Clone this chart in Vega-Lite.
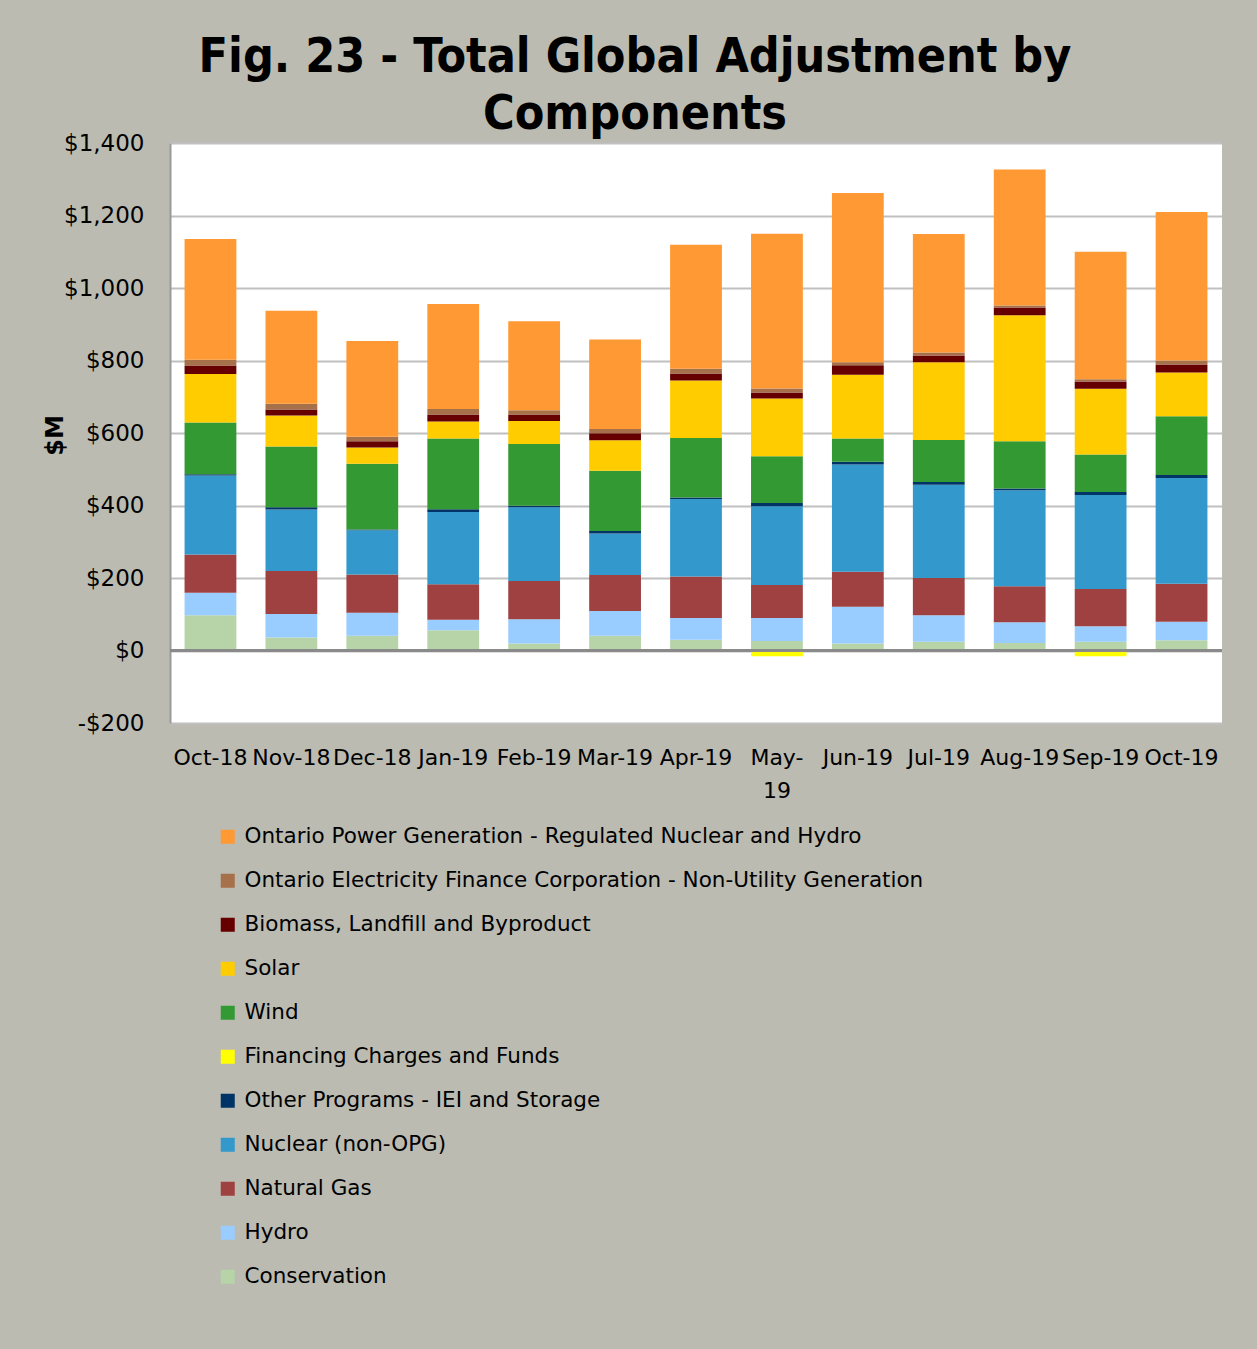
{
  "$schema": "https://vega.github.io/schema/vega-lite/v6.json",
  "autosize": "none",
  "width": 1052,
  "height": 580,
  "padding": {"left": 170, "top": 143, "right": 35, "bottom": 626},
  "background": "#BBBBB2",
  "view": {"fill": "white", "stroke": null},
  "title": {
    "text": ["Fig. 23 - Total Global Adjustment by", "Components"],
    "font": "DejaVu Sans Condensed",
    "fontSize": 48,
    "fontWeight": "bold",
    "lineHeight": 57,
    "anchor": "middle",
    "frame": "group",
    "dx": -61,
    "offset": -7,
    "color": "black"
  },
  "datasets": {
    "componentOrder": [
      {"component": "Conservation", "rank": 1},
      {"component": "Hydro", "rank": 2},
      {"component": "Natural Gas", "rank": 3},
      {"component": "Nuclear (non-OPG)", "rank": 4},
      {"component": "Other Programs - IEI and Storage", "rank": 5},
      {"component": "Financing Charges and Funds", "rank": 6},
      {"component": "Wind", "rank": 7},
      {"component": "Solar", "rank": 8},
      {"component": "Biomass, Landfill and Byproduct", "rank": 9},
      {"component": "Ontario Electricity Finance Corporation - Non-Utility Generation", "rank": 10},
      {"component": "Ontario Power Generation - Regulated Nuclear and Hydro", "rank": 11}
    ],
    "gaRows": [
      {"month": "Oct-18", "component": "Conservation", "value": 97},
      {"month": "Oct-18", "component": "Hydro", "value": 62},
      {"month": "Oct-18", "component": "Natural Gas", "value": 106},
      {"month": "Oct-18", "component": "Nuclear (non-OPG)", "value": 218},
      {"month": "Oct-18", "component": "Other Programs - IEI and Storage", "value": 3},
      {"month": "Oct-18", "component": "Wind", "value": 143},
      {"month": "Oct-18", "component": "Solar", "value": 134},
      {"month": "Oct-18", "component": "Biomass, Landfill and Byproduct", "value": 23},
      {"month": "Oct-18", "component": "Ontario Electricity Finance Corporation - Non-Utility Generation", "value": 16},
      {"month": "Oct-18", "component": "Ontario Power Generation - Regulated Nuclear and Hydro", "value": 333},

      {"month": "Nov-18", "component": "Conservation", "value": 36},
      {"month": "Nov-18", "component": "Hydro", "value": 65},
      {"month": "Nov-18", "component": "Natural Gas", "value": 118},
      {"month": "Nov-18", "component": "Nuclear (non-OPG)", "value": 170},
      {"month": "Nov-18", "component": "Other Programs - IEI and Storage", "value": 6},
      {"month": "Nov-18", "component": "Wind", "value": 168},
      {"month": "Nov-18", "component": "Solar", "value": 85},
      {"month": "Nov-18", "component": "Biomass, Landfill and Byproduct", "value": 17},
      {"month": "Nov-18", "component": "Ontario Electricity Finance Corporation - Non-Utility Generation", "value": 16},
      {"month": "Nov-18", "component": "Ontario Power Generation - Regulated Nuclear and Hydro", "value": 256},

      {"month": "Dec-18", "component": "Conservation", "value": 41},
      {"month": "Dec-18", "component": "Hydro", "value": 63},
      {"month": "Dec-18", "component": "Natural Gas", "value": 106},
      {"month": "Dec-18", "component": "Nuclear (non-OPG)", "value": 122},
      {"month": "Dec-18", "component": "Other Programs - IEI and Storage", "value": 2},
      {"month": "Dec-18", "component": "Wind", "value": 181},
      {"month": "Dec-18", "component": "Solar", "value": 45},
      {"month": "Dec-18", "component": "Biomass, Landfill and Byproduct", "value": 17},
      {"month": "Dec-18", "component": "Ontario Electricity Finance Corporation - Non-Utility Generation", "value": 13},
      {"month": "Dec-18", "component": "Ontario Power Generation - Regulated Nuclear and Hydro", "value": 264},

      {"month": "Jan-19", "component": "Conservation", "value": 56},
      {"month": "Jan-19", "component": "Hydro", "value": 29},
      {"month": "Jan-19", "component": "Natural Gas", "value": 98},
      {"month": "Jan-19", "component": "Nuclear (non-OPG)", "value": 199},
      {"month": "Jan-19", "component": "Other Programs - IEI and Storage", "value": 8},
      {"month": "Jan-19", "component": "Wind", "value": 195},
      {"month": "Jan-19", "component": "Solar", "value": 47},
      {"month": "Jan-19", "component": "Biomass, Landfill and Byproduct", "value": 19},
      {"month": "Jan-19", "component": "Ontario Electricity Finance Corporation - Non-Utility Generation", "value": 15},
      {"month": "Jan-19", "component": "Ontario Power Generation - Regulated Nuclear and Hydro", "value": 290},

      {"month": "Feb-19", "component": "Conservation", "value": 19},
      {"month": "Feb-19", "component": "Hydro", "value": 67},
      {"month": "Feb-19", "component": "Natural Gas", "value": 106},
      {"month": "Feb-19", "component": "Nuclear (non-OPG)", "value": 203},
      {"month": "Feb-19", "component": "Other Programs - IEI and Storage", "value": 4},
      {"month": "Feb-19", "component": "Wind", "value": 171},
      {"month": "Feb-19", "component": "Solar", "value": 63},
      {"month": "Feb-19", "component": "Biomass, Landfill and Byproduct", "value": 18},
      {"month": "Feb-19", "component": "Ontario Electricity Finance Corporation - Non-Utility Generation", "value": 12},
      {"month": "Feb-19", "component": "Ontario Power Generation - Regulated Nuclear and Hydro", "value": 245},

      {"month": "Mar-19", "component": "Conservation", "value": 41},
      {"month": "Mar-19", "component": "Hydro", "value": 68},
      {"month": "Mar-19", "component": "Natural Gas", "value": 99},
      {"month": "Mar-19", "component": "Nuclear (non-OPG)", "value": 115},
      {"month": "Mar-19", "component": "Other Programs - IEI and Storage", "value": 7},
      {"month": "Mar-19", "component": "Wind", "value": 166},
      {"month": "Mar-19", "component": "Solar", "value": 84},
      {"month": "Mar-19", "component": "Biomass, Landfill and Byproduct", "value": 19},
      {"month": "Mar-19", "component": "Ontario Electricity Finance Corporation - Non-Utility Generation", "value": 12},
      {"month": "Mar-19", "component": "Ontario Power Generation - Regulated Nuclear and Hydro", "value": 247},

      {"month": "Apr-19", "component": "Conservation", "value": 30},
      {"month": "Apr-19", "component": "Hydro", "value": 60},
      {"month": "Apr-19", "component": "Natural Gas", "value": 114},
      {"month": "Apr-19", "component": "Nuclear (non-OPG)", "value": 214},
      {"month": "Apr-19", "component": "Other Programs - IEI and Storage", "value": 4},
      {"month": "Apr-19", "component": "Wind", "value": 164},
      {"month": "Apr-19", "component": "Solar", "value": 159},
      {"month": "Apr-19", "component": "Biomass, Landfill and Byproduct", "value": 19},
      {"month": "Apr-19", "component": "Ontario Electricity Finance Corporation - Non-Utility Generation", "value": 13},
      {"month": "Apr-19", "component": "Ontario Power Generation - Regulated Nuclear and Hydro", "value": 342},

      {"month": "May-19", "component": "Financing Charges and Funds", "value": -16},
      {"month": "May-19", "component": "Conservation", "value": 26},
      {"month": "May-19", "component": "Hydro", "value": 64},
      {"month": "May-19", "component": "Natural Gas", "value": 91},
      {"month": "May-19", "component": "Nuclear (non-OPG)", "value": 217},
      {"month": "May-19", "component": "Other Programs - IEI and Storage", "value": 9},
      {"month": "May-19", "component": "Wind", "value": 129},
      {"month": "May-19", "component": "Solar", "value": 159},
      {"month": "May-19", "component": "Biomass, Landfill and Byproduct", "value": 17},
      {"month": "May-19", "component": "Ontario Electricity Finance Corporation - Non-Utility Generation", "value": 11},
      {"month": "May-19", "component": "Ontario Power Generation - Regulated Nuclear and Hydro", "value": 427},

      {"month": "Jun-19", "component": "Conservation", "value": 19},
      {"month": "Jun-19", "component": "Hydro", "value": 102},
      {"month": "Jun-19", "component": "Natural Gas", "value": 96},
      {"month": "Jun-19", "component": "Nuclear (non-OPG)", "value": 296},
      {"month": "Jun-19", "component": "Other Programs - IEI and Storage", "value": 8},
      {"month": "Jun-19", "component": "Wind", "value": 64},
      {"month": "Jun-19", "component": "Solar", "value": 176},
      {"month": "Jun-19", "component": "Biomass, Landfill and Byproduct", "value": 26},
      {"month": "Jun-19", "component": "Ontario Electricity Finance Corporation - Non-Utility Generation", "value": 8},
      {"month": "Jun-19", "component": "Ontario Power Generation - Regulated Nuclear and Hydro", "value": 467},

      {"month": "Jul-19", "component": "Conservation", "value": 24},
      {"month": "Jul-19", "component": "Hydro", "value": 73},
      {"month": "Jul-19", "component": "Natural Gas", "value": 103},
      {"month": "Jul-19", "component": "Nuclear (non-OPG)", "value": 257},
      {"month": "Jul-19", "component": "Other Programs - IEI and Storage", "value": 8},
      {"month": "Jul-19", "component": "Wind", "value": 116},
      {"month": "Jul-19", "component": "Solar", "value": 214},
      {"month": "Jul-19", "component": "Biomass, Landfill and Byproduct", "value": 19},
      {"month": "Jul-19", "component": "Ontario Electricity Finance Corporation - Non-Utility Generation", "value": 8},
      {"month": "Jul-19", "component": "Ontario Power Generation - Regulated Nuclear and Hydro", "value": 327},

      {"month": "Aug-19", "component": "Conservation", "value": 21},
      {"month": "Aug-19", "component": "Hydro", "value": 57},
      {"month": "Aug-19", "component": "Natural Gas", "value": 99},
      {"month": "Aug-19", "component": "Nuclear (non-OPG)", "value": 265},
      {"month": "Aug-19", "component": "Other Programs - IEI and Storage", "value": 5},
      {"month": "Aug-19", "component": "Wind", "value": 130},
      {"month": "Aug-19", "component": "Solar", "value": 348},
      {"month": "Aug-19", "component": "Biomass, Landfill and Byproduct", "value": 21},
      {"month": "Aug-19", "component": "Ontario Electricity Finance Corporation - Non-Utility Generation", "value": 6},
      {"month": "Aug-19", "component": "Ontario Power Generation - Regulated Nuclear and Hydro", "value": 375},

      {"month": "Sep-19", "component": "Financing Charges and Funds", "value": -16},
      {"month": "Sep-19", "component": "Conservation", "value": 24},
      {"month": "Sep-19", "component": "Hydro", "value": 43},
      {"month": "Sep-19", "component": "Natural Gas", "value": 103},
      {"month": "Sep-19", "component": "Nuclear (non-OPG)", "value": 259},
      {"month": "Sep-19", "component": "Other Programs - IEI and Storage", "value": 8},
      {"month": "Sep-19", "component": "Wind", "value": 104},
      {"month": "Sep-19", "component": "Solar", "value": 181},
      {"month": "Sep-19", "component": "Biomass, Landfill and Byproduct", "value": 20},
      {"month": "Sep-19", "component": "Ontario Electricity Finance Corporation - Non-Utility Generation", "value": 6},
      {"month": "Sep-19", "component": "Ontario Power Generation - Regulated Nuclear and Hydro", "value": 352},

      {"month": "Oct-19", "component": "Conservation", "value": 28},
      {"month": "Oct-19", "component": "Hydro", "value": 51},
      {"month": "Oct-19", "component": "Natural Gas", "value": 105},
      {"month": "Oct-19", "component": "Nuclear (non-OPG)", "value": 292},
      {"month": "Oct-19", "component": "Other Programs - IEI and Storage", "value": 8},
      {"month": "Oct-19", "component": "Wind", "value": 162},
      {"month": "Oct-19", "component": "Solar", "value": 121},
      {"month": "Oct-19", "component": "Biomass, Landfill and Byproduct", "value": 22},
      {"month": "Oct-19", "component": "Ontario Electricity Finance Corporation - Non-Utility Generation", "value": 11},
      {"month": "Oct-19", "component": "Ontario Power Generation - Regulated Nuclear and Hydro", "value": 410}
    ]
  },
  "data": {"name": "gaRows"},
  "transform": [
    {"lookup": "component", "from": {"data": {"name": "componentOrder"}, "key": "component", "fields": ["rank"]}}
  ],
  "layer": [
    {
      "mark": {"type": "bar"},
      "encoding": {
        "x": {
          "field": "month",
          "type": "nominal",
          "sort": ["Oct-18","Nov-18","Dec-18","Jan-19","Feb-19","Mar-19","Apr-19","May-19","Jun-19","Jul-19","Aug-19","Sep-19","Oct-19"],
          "scale": {"paddingInner": 0.36, "paddingOuter": 0.18},
          "axis": {
            "title": null,
            "labelAngle": 0,
            "domain": false,
            "ticks": false,
            "labelFont": "DejaVu Sans",
            "labelFontSize": 22,
            "labelColor": "black",
            "labelPadding": 24,
            "labelLineHeight": 33,
            "labelExpr": "datum.value == 'May-19' ? ['May-', '19'] : datum.value"
          }
        },
        "y": {
          "field": "value",
          "type": "quantitative",
          "stack": "zero",
          "scale": {"domain": [-200, 1400], "nice": false, "zero": false},
          "axis": {
            "values": [-200, 0, 200, 400, 600, 800, 1000, 1200, 1400],
            "title": "$M",
            "titleFont": "DejaVu Sans",
            "titleFontSize": 24,
            "titleFontWeight": "bold",
            "titleColor": "black",
            "titleAngle": -90,
            "titleX": -115,
            "titleY": 292,
            "titleAlign": "center",
            "titleBaseline": "middle",
            "labelFont": "DejaVu Sans",
            "labelFontSize": 23,
            "labelColor": "black",
            "labelPadding": 26,
            "ticks": false,
            "domainColor": "#9A9A9A",
            "domainWidth": 2,
            "gridColor": "#C0C0C0",
            "gridWidth": 2,
            "labelExpr": "(datum.value < 0 ? '-' : '') + '$' + format(abs(datum.value), ',')"
          }
        },
        "order": {"field": "rank", "type": "quantitative", "sort": "ascending"},
        "color": {
          "field": "component",
          "type": "nominal",
          "sort": ["Ontario Power Generation - Regulated Nuclear and Hydro","Ontario Electricity Finance Corporation - Non-Utility Generation","Biomass, Landfill and Byproduct","Solar","Wind","Financing Charges and Funds","Other Programs - IEI and Storage","Nuclear (non-OPG)","Natural Gas","Hydro","Conservation"],
          "scale": {
            "range": ["#FF9933","#A6714A","#660000","#FFCC00","#339933","#FFFF00","#003366","#3399CC","#9E4140","#99CCFF","#B6D4A8"]
          },
          "legend": {
            "orient": "none",
            "legendX": 47,
            "legendY": 683,
            "title": null,
            "padding": 0,
            "symbolType": "square",
            "symbolSize": 196,
            "symbolStrokeWidth": 0,
            "symbolOpacity": 1,
            "labelFont": "DejaVu Sans",
            "labelFontSize": 21.5,
            "labelColor": "black",
            "labelOffset": 6,
            "labelLimit": 0,
            "rowPadding": 21,
            "direction": "vertical"
          }
        }
      }
    },
    {
      "mark": {"type": "rule", "color": "#8A8A8A", "strokeWidth": 3},
      "encoding": {"y": {"datum": 0}}
    }
  ]
}
